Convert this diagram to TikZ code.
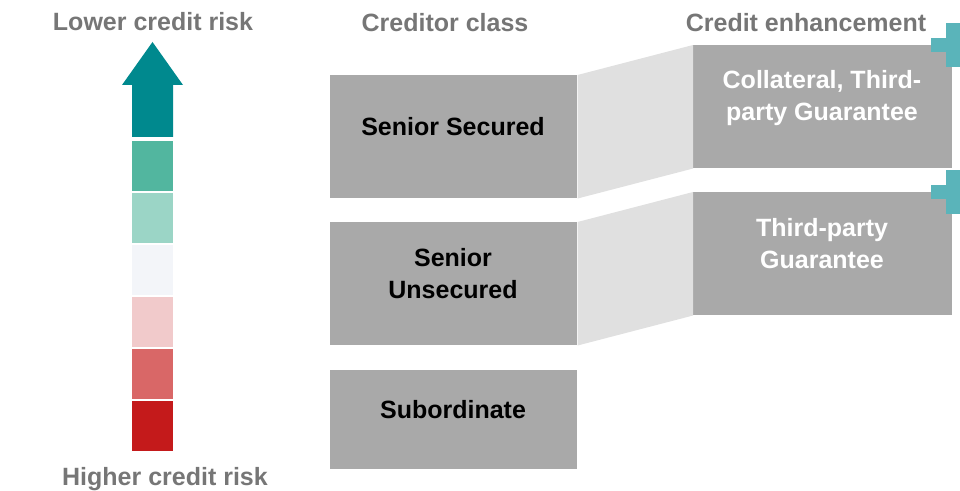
\documentclass[tikz,border=0pt]{standalone}
\usepackage{fontspec}
\setmainfont{Liberation Sans}
\definecolor{hdrgray}{HTML}{767676}
\definecolor{boxgray}{HTML}{A9A9A9}
\definecolor{linkgray}{HTML}{E0E0E0}
\definecolor{plusteal}{HTML}{5AB4BA}
\definecolor{arrowteal}{HTML}{00898E}
\definecolor{riskA}{HTML}{52B69F}
\definecolor{riskB}{HTML}{9BD5C6}
\definecolor{riskC}{HTML}{F3F5F9}
\definecolor{riskD}{HTML}{F1CACB}
\definecolor{riskE}{HTML}{D96767}
\definecolor{riskF}{HTML}{C41A1B}
\begin{document}
\begin{tikzpicture}[x=0.75pt,y=-0.75pt,
  txt/.style={font=\bfseries\fontsize{18.75}{24}\selectfont, inner sep=0pt, anchor=base, align=center},
  hdr/.style={txt, text=hdrgray},
  classbox/.style={fill=boxgray, inner sep=0pt, anchor=north west, minimum width=185.25pt},
  enhbox/.style={fill=boxgray, inner sep=0pt, anchor=north west, minimum width=194.25pt, minimum height=92.25pt},
  riskcell/.style={inner sep=0pt, anchor=north west, minimum width=30.75pt, minimum height=37.5pt},
  link/.style={fill=linkgray},
  plus/.style={fill=plusteal}]
\useasboundingbox (0,0) rectangle (960,491);

% headings
\node[hdr] (lowrisk) at (153,31) {Lower credit risk};
\node[hdr] (highrisk) at (165,485) {Higher credit risk};
\node[hdr] (classhdr) at (445,32) {Creditor class};
\node[hdr] (enhhdr) at (806,32) {Credit enhancement};

% risk scale: arrow on top of six coloured cells
\fill[arrowteal] (132,137) -- (132,85) -- (122,85) -- (152.5,42) -- (183,85) -- (173,85) -- (173,137) -- cycle;
\node[riskcell, fill=riskA] (r1) at (132,141) {};
\node[riskcell, fill=riskB] (r2) at (132,192.5) {};
\node[riskcell, fill=riskC] (r3) at (132,244.5) {};
\node[riskcell, fill=riskD] (r4) at (132,296.5) {};
\node[riskcell, fill=riskE] (r5) at (132,349) {};
\node[riskcell, fill=riskF] (r6) at (132,401) {};

% creditor classes
\node[classbox, minimum height=92.25pt] (ss) at (330,75) {};
\node[classbox, minimum height=92.25pt] (su) at (330,222) {};
\node[classbox, minimum height=74.25pt] (sub) at (330,370) {};

% credit enhancements
\node[enhbox] (ce1) at (693,45) {};
\node[enhbox] (ce2) at (693,192) {};

% links between classes and enhancements
\fill[link] (ss.north east) -- (ce1.north west) -- (ce1.south west) -- (ss.south east) -- cycle;
\fill[link] (su.north east) -- (ce2.north west) -- (ce2.south west) -- (su.south east) -- cycle;

% plus marks
\fill[plus] ([xshift=-16.5pt,yshift=5.25pt]ce1.north east) rectangle ([xshift=16.5pt,yshift=-5.25pt]ce1.north east);
\fill[plus] ([xshift=-5.25pt,yshift=16.5pt]ce1.north east) rectangle ([xshift=5.25pt,yshift=-16.5pt]ce1.north east);
\fill[plus] ([xshift=-16.5pt,yshift=5.25pt]ce2.north east) rectangle ([xshift=16.5pt,yshift=-5.25pt]ce2.north east);
\fill[plus] ([xshift=-5.25pt,yshift=16.5pt]ce2.north east) rectangle ([xshift=5.25pt,yshift=-16.5pt]ce2.north east);

% labels (multi-line labels are anchored on their last baseline)
\node[txt] (ssl) at (453,136) {Senior Secured};
\node[txt] (sul) at (453,299) {Senior\\Unsecured};
\node[txt] (subl) at (453,418) {Subordinate};
\node[txt, text=white] (ce1l) at (822,121) {Collateral, Third-\\party Guarantee};
\node[txt, text=white] (ce2l) at (822,269) {Third-party\\Guarantee};
\end{tikzpicture}
\end{document}
